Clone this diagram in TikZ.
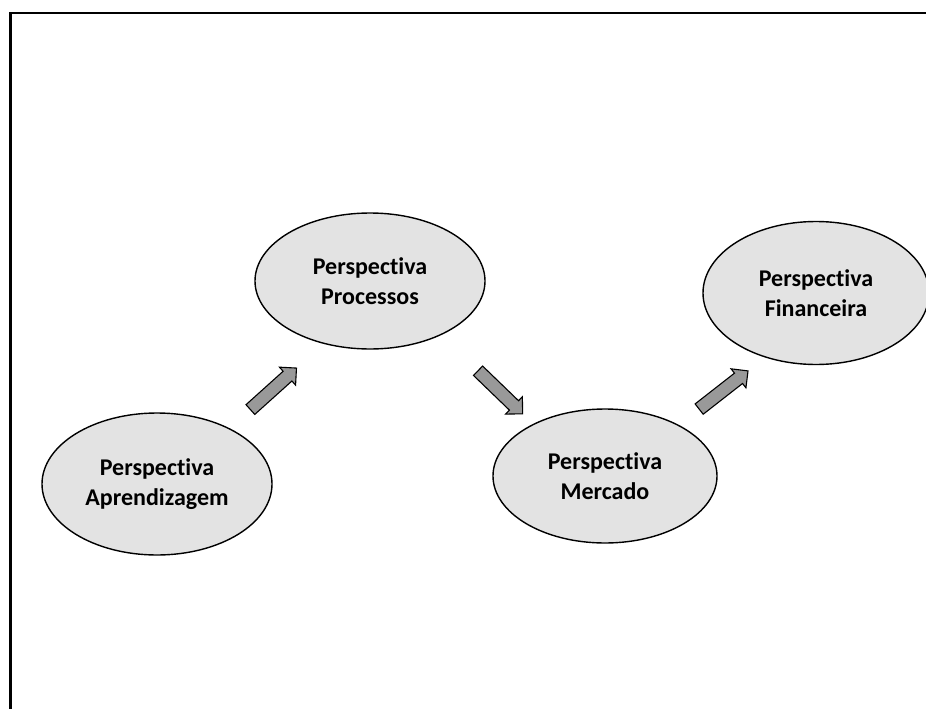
\documentclass[tikz,border=0pt]{standalone}
\usepackage{fontspec}
\setmainfont[Ligatures=NoCommon]{Carlito}
\usetikzlibrary{shapes.geometric,shapes.arrows}

\tikzset{
  persp/.style={ellipse, draw=black, line width=1.4pt, fill=black!11,
    inner sep=0pt, align=center, font=\bfseries\fontsize{24}{29.5}\selectfont},
  blockarrow/.style={single arrow, draw=black, line width=1.1pt, fill=black!40,
    minimum height=62pt, inner xsep=0pt, inner ysep=6pt,
    single arrow head extend=5.5pt, single arrow head indent=0pt}
}

\begin{document}
\begin{tikzpicture}[x=1pt,y=-1pt]
  \useasboundingbox (0,0) rectangle (926,709);

  % outer frame (top and left edges)
  \draw[line width=2.4pt] (926,13) -- (10.5,13) -- (10.5,709);

  % perspectives
  \node[persp, minimum width=230pt, minimum height=142pt] (apr) at (157,484)
    {Perspectiva\\Aprendizagem};
  \node[persp, minimum width=230pt, minimum height=136pt] (proc) at (370,281)
    {Perspectiva\\Processos};
  \node[persp, minimum width=224pt, minimum height=134pt] (merc) at (605,476)
    {Perspectiva\\Mercado};
  \node[persp, minimum width=226pt, minimum height=143pt] (fin) at (816,293)
    {Perspectiva\\Financeira};

  % block arrows between the perspectives
  \node[blockarrow, rotate=42] (a1) at (271,391) {};
  \node[blockarrow, rotate=-44] (a2) at (498,390) {};
  \node[blockarrow, rotate=38] (a3) at (721,392) {};
\end{tikzpicture}
\end{document}
